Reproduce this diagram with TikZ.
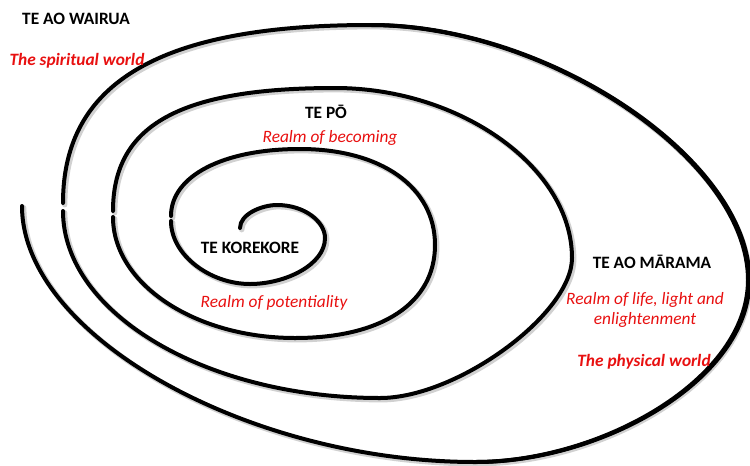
\documentclass[tikz,border=0pt]{standalone}
\usepackage{fontspec}
\setmainfont{Carlito}
\definecolor{realmred}{RGB}{232,16,16}
\begin{document}
\begin{tikzpicture}[x=0.75pt,y=-0.75pt,
  spiral/.style={line width=3pt,black,line cap=round},
  shade/.style={line width=4pt,black!18,line cap=round},
  title/.style={font=\fontsize{13}{15}\selectfont\bfseries,inner sep=0pt},
  realm/.style={font=\fontsize{13}{15}\selectfont\itshape,text=realmred,inner sep=0pt,align=center},
  world/.style={font=\fontsize{13}{15}\selectfont\bfseries\itshape,text=realmred,inner sep=0pt}]
\useasboundingbox (0,0) rectangle (750,465);
% spiral turns, inner to outer, split at the small gaps on the left
\def\segA{(240,228) .. controls (240,214) and (262,205) .. (277,205)
  .. controls (305,205) and (325,222) .. (325,238)
  .. controls (325,265) and (285,284) .. (250,284)
  .. controls (210,284) and (171,255) .. (171,221)}
\def\segB{(171,216) .. controls (171,176) and (223,149) .. (300,149)
  .. controls (381,149) and (435,187) .. (435,245)
  .. controls (435,303) and (382,338) .. (295,338)
  .. controls (195,338) and (113,284) .. (113,217)}
\def\segC{(113,211) .. controls (113,125) and (180,88) .. (335,88)
  .. controls (461,88) and (572,168) .. (572,258)
  .. controls (572,314) and (457,398) .. (380,398)
  .. controls (206,398) and (63,313) .. (63,211)}
\def\segD{(63,203) .. controls (63,82) and (161,25) .. (370,25)
  .. controls (548,25) and (748,160) .. (748,280)
  .. controls (748,380) and (600,462) .. (475,462)
  .. controls (249,462) and (22,336) .. (22,206)}
\foreach \s in {\segA,\segB,\segC,\segD}{
  \draw[shade,xshift=1.3pt,yshift=-1.3pt] \s;
}
\foreach \s in {\segA,\segB,\segC,\segD}{
  \draw[spiral] \s;
}
% heavier right flank of the outer turn
\draw[spiral,xshift=1.1pt] (370,25) .. controls (548,25) and (748,160) .. (748,280)
  .. controls (748,380) and (600,462) .. (475,462);
\node[title] (wairua) at (76,19) {TE AO WAIRUA};
\node[world] (spiritual) at (77,61) {The spiritual world};
\node[title] (po) at (326,112) {TE PŌ};
\node[realm] (becoming) at (330,138) {Realm of becoming};
\node[title] (korekore) at (250,248) {TE KOREKORE};
\node[realm] (potentiality) at (274,303) {Realm of potentiality};
\node[title] (marama) at (652,262) {TE AO MĀRAMA};
\node[realm] (life) at (645,310) {Realm of life, light and\\enlightenment};
\node[world] (physical) at (644,362) {The physical world};
\end{tikzpicture}
\end{document}
